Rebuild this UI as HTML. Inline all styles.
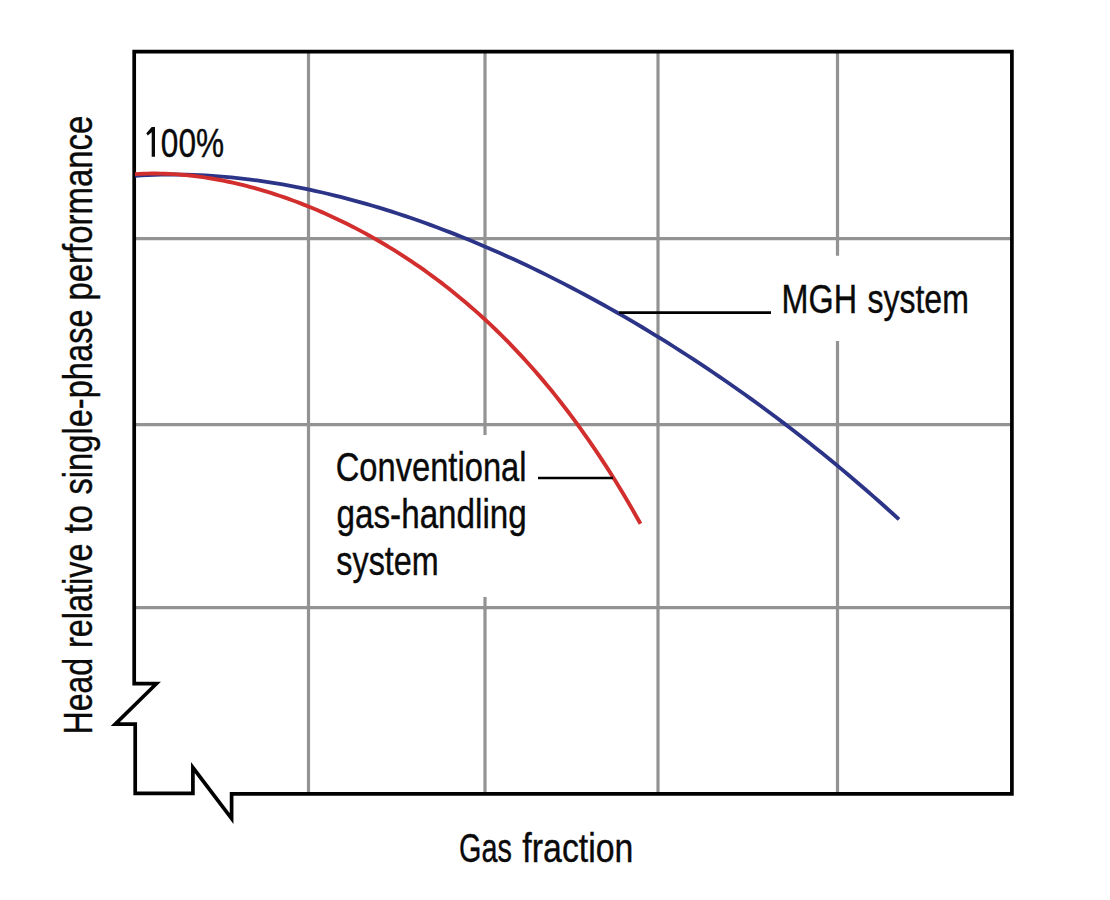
<!DOCTYPE html>
<html><head><meta charset="utf-8"><style>
html,body{margin:0;padding:0;background:#fff;}
svg{display:block;}
text{font-family:"Liberation Sans",sans-serif;fill:#0a0a0a;stroke:#0a0a0a;stroke-width:0.4px;}
</style></head><body>
<svg width="1110" height="900" viewBox="0 0 1110 900">
<rect width="1110" height="900" fill="#fff"/>
<g stroke="#939393" stroke-width="3.2" fill="none">
<line x1="308.5" y1="52" x2="308.5" y2="793"/>
<line x1="485" y1="52" x2="485" y2="435"/>
<line x1="485" y1="597" x2="485" y2="793"/>
<line x1="658" y1="52" x2="658" y2="793"/>
<line x1="837.5" y1="52" x2="837.5" y2="255.8"/>
<line x1="837.5" y1="341" x2="837.5" y2="793"/>
<line x1="135" y1="238.6" x2="1011" y2="238.6"/>
<line x1="135" y1="424.6" x2="1011" y2="424.6"/>
<line x1="135" y1="607.6" x2="1011" y2="607.6"/>
</g>
<path d="M500,51.6 L1011.9,51.6 L1011.9,793.9 L231.6,793.9 L231.6,818.6 L192.9,767.6 L192.9,793.3 L135.2,793.3 L135.2,724.1 L115.2,724.1 L156.4,683.7 L134.2,683.7 L134.2,51.6 Z" fill="none" stroke="#000" stroke-width="3.7" stroke-linejoin="miter" stroke-miterlimit="20"/>
<path d="M135.00,175.76 L141.42,175.37 L147.84,175.04 L154.26,174.80 L160.68,174.62 L167.10,174.52 L173.52,174.50 L179.94,174.55 L186.36,174.67 L192.78,174.86 L199.20,175.11 L205.62,175.44 L212.04,175.84 L218.46,176.30 L224.88,176.83 L231.30,177.43 L237.72,178.09 L244.14,178.81 L250.56,179.60 L256.98,180.45 L263.40,181.36 L269.82,182.33 L276.24,183.37 L282.66,184.46 L289.08,185.62 L295.50,186.83 L301.92,188.10 L308.34,189.43 L314.76,190.81 L321.18,192.25 L327.61,193.75 L334.03,195.30 L340.45,196.91 L346.87,198.57 L353.29,200.29 L359.71,202.05 L366.13,203.87 L372.55,205.75 L378.97,207.67 L385.39,209.65 L391.81,211.67 L398.23,213.75 L404.65,215.88 L411.07,218.05 L417.49,220.28 L423.91,222.55 L430.33,224.87 L436.75,227.25 L443.17,229.66 L449.59,232.13 L456.01,234.64 L462.43,237.20 L468.85,239.81 L475.27,242.47 L481.69,245.17 L488.11,247.91 L494.53,250.70 L500.95,253.54 L507.37,256.42 L513.79,259.35 L520.21,262.32 L526.63,265.34 L533.05,268.40 L539.47,271.51 L545.89,274.66 L552.31,277.86 L558.73,281.10 L565.15,284.38 L571.57,287.71 L577.99,291.08 L584.41,294.50 L590.83,297.96 L597.25,301.47 L603.67,305.02 L610.09,308.61 L616.51,312.25 L622.93,315.94 L629.35,319.66 L635.77,323.43 L642.19,327.25 L648.61,331.11 L655.03,335.02 L661.45,338.97 L667.87,342.97 L674.29,347.01 L680.71,351.10 L687.13,355.23 L693.55,359.41 L699.97,363.63 L706.39,367.90 L712.82,372.22 L719.24,376.59 L725.66,381.00 L732.08,385.46 L738.50,389.97 L744.92,394.52 L751.34,399.13 L757.76,403.78 L764.18,408.48 L770.60,413.23 L777.02,418.03 L783.44,422.88 L789.86,427.79 L796.28,432.74 L802.70,437.74 L809.12,442.80 L815.54,447.91 L821.96,453.07 L828.38,458.29 L834.80,463.56 L841.22,468.89 L847.64,474.26 L854.06,479.70 L860.48,485.19 L866.90,490.74 L873.32,496.35 L879.74,502.01 L886.16,507.73 L892.58,513.51 L899.00,519.35" fill="none" stroke="#2c3488" stroke-width="3.8" stroke-linecap="butt"/>
<path d="M135.00,174.16 L139.25,173.92 L143.50,173.74 L147.74,173.62 L151.99,173.56 L156.24,173.56 L160.49,173.61 L164.74,173.73 L168.98,173.90 L173.23,174.12 L177.48,174.40 L181.73,174.74 L185.97,175.12 L190.22,175.56 L194.47,176.05 L198.72,176.59 L202.97,177.18 L207.21,177.82 L211.46,178.51 L215.71,179.24 L219.96,180.02 L224.21,180.85 L228.45,181.73 L232.70,182.65 L236.95,183.62 L241.20,184.63 L245.45,185.69 L249.69,186.79 L253.94,187.94 L258.19,189.13 L262.44,190.37 L266.68,191.64 L270.93,192.96 L275.18,194.33 L279.43,195.74 L283.68,197.18 L287.92,198.68 L292.17,200.21 L296.42,201.79 L300.67,203.41 L304.92,205.07 L309.16,206.78 L313.41,208.52 L317.66,210.31 L321.91,212.15 L326.16,214.02 L330.40,215.94 L334.65,217.91 L338.90,219.92 L343.15,221.97 L347.39,224.06 L351.64,226.20 L355.89,228.39 L360.14,230.62 L364.39,232.90 L368.63,235.22 L372.88,237.60 L377.13,240.01 L381.38,242.48 L385.63,245.00 L389.87,247.56 L394.12,250.17 L398.37,252.84 L402.62,255.55 L406.87,258.32 L411.11,261.14 L415.36,264.02 L419.61,266.94 L423.86,269.93 L428.11,272.97 L432.35,276.06 L436.60,279.22 L440.85,282.43 L445.10,285.70 L449.34,289.03 L453.59,292.43 L457.84,295.89 L462.09,299.41 L466.34,302.99 L470.58,306.65 L474.83,310.37 L479.08,314.15 L483.33,318.01 L487.58,321.94 L491.82,325.94 L496.07,330.02 L500.32,334.17 L504.57,338.40 L508.82,342.70 L513.06,347.08 L517.31,351.55 L521.56,356.09 L525.81,360.73 L530.05,365.44 L534.30,370.24 L538.55,375.14 L542.80,380.12 L547.05,385.19 L551.29,390.36 L555.54,395.62 L559.79,400.98 L564.04,406.44 L568.29,412.00 L572.53,417.66 L576.78,423.42 L581.03,429.29 L585.28,435.27 L589.53,441.37 L593.77,447.57 L598.02,453.88 L602.27,460.32 L606.52,466.87 L610.76,473.54 L615.01,480.33 L619.26,487.25 L623.51,494.30 L627.76,501.47 L632.00,508.78 L636.25,516.22 L640.50,523.79" fill="none" stroke="#d22e2e" stroke-width="3.9" stroke-linecap="butt"/>
<line x1="619" y1="312.6" x2="771" y2="312.6" stroke="#000" stroke-width="2.6"/>
<line x1="538" y1="478" x2="613" y2="478" stroke="#000" stroke-width="2.6"/>
<path d="M151.7,127.1 L155,127.1 L155,156.8 L151.7,156.8 L151.7,132.2 L147.8,135.6 L146.3,133.2 Z" fill="#0a0a0a"/>
<text transform="translate(160.84,157.00) scale(0.7709,1)" font-size="41.0">00%</text>
<text transform="translate(781.61,312.80) scale(0.7890,1)" font-size="41.0">MGH</text>
<text transform="translate(867.44,312.80) scale(0.7810,1)" font-size="41.0">system</text>
<text transform="translate(335.67,481.30) scale(0.7974,1)" font-size="41.0">Conventional</text>
<text transform="translate(336.57,528.00) scale(0.8103,1)" font-size="41.0">gas-handling</text>
<text transform="translate(336.33,574.70) scale(0.7889,1)" font-size="41.0">system</text>
<text transform="translate(459.06,861.50) scale(0.7024,1)" font-size="41.0">Gas</text>
<text transform="translate(522.36,861.50) scale(0.8262,1)" font-size="41.0">fraction</text>
<g transform="translate(92.3,0) rotate(-90)">
<text transform="translate(-734.57,0.00) scale(0.7837,1)" font-size="41.0">Head</text>
<text transform="translate(-648.07,0.00) scale(0.7913,1)" font-size="41.0">relative</text>
<text transform="translate(-533.17,0.00) scale(0.8204,1)" font-size="41.0">to</text>
<text transform="translate(-494.48,0.00) scale(0.7966,1)" font-size="41.0">single-phase</text>
<text transform="translate(-300.61,0.00) scale(0.8044,1)" font-size="41.0">performance</text>
</g>
</svg>
</body></html>
